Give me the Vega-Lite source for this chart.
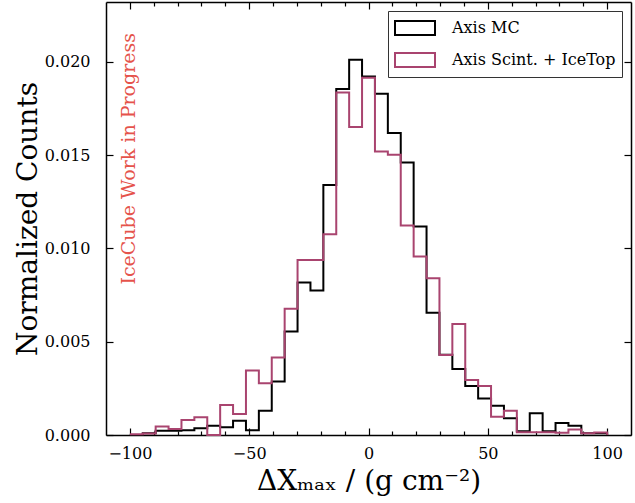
{
  "$schema": "https://vega.github.io/schema/vega-lite/v6.json",
  "width": 525,
  "height": 433,
  "autosize": {"type": "none"},
  "padding": {"left": 106, "top": 2, "right": 4, "bottom": 68},
  "background": "white",
  "config": {
    "font": "DejaVu Serif",
    "view": {"stroke": null},
    "axis": {
      "grid": false,
      "domainColor": "black",
      "domainWidth": 1.5,
      "tickColor": "black",
      "tickWidth": 1.2,
      "labelColor": "black",
      "labelFont": "DejaVu Serif",
      "labelFontSize": 16,
      "titleFont": "DejaVu Serif",
      "titleFontSize": 28,
      "titleFontWeight": "normal",
      "titleColor": "black",
      "labelOverlap": false,
      "labelFlush": false
    }
  },
  "resolve": {"axis": {"x": "independent", "y": "independent"}},
  "layer": [
    {
      "data": {
        "values": [
          {"s": "Axis MC", "x": -100, "y": 0},
          {"s": "Axis MC", "x": -94.595, "y": 0.0001},
          {"s": "Axis MC", "x": -89.189, "y": 0.00023},
          {"s": "Axis MC", "x": -83.784, "y": 0.00023},
          {"s": "Axis MC", "x": -78.378, "y": 0.00026},
          {"s": "Axis MC", "x": -72.973, "y": 0.00036},
          {"s": "Axis MC", "x": -67.568, "y": 0.0005},
          {"s": "Axis MC", "x": -62.162, "y": 0.00042},
          {"s": "Axis MC", "x": -56.757, "y": 0.00077},
          {"s": "Axis MC", "x": -51.351, "y": 0.00025},
          {"s": "Axis MC", "x": -45.946, "y": 0.0013},
          {"s": "Axis MC", "x": -40.541, "y": 0.00286},
          {"s": "Axis MC", "x": -35.135, "y": 0.00554},
          {"s": "Axis MC", "x": -29.73, "y": 0.00817},
          {"s": "Axis MC", "x": -24.324, "y": 0.00774},
          {"s": "Axis MC", "x": -18.919, "y": 0.0134},
          {"s": "Axis MC", "x": -13.514, "y": 0.01854},
          {"s": "Axis MC", "x": -8.108, "y": 0.0201},
          {"s": "Axis MC", "x": -2.703, "y": 0.01921},
          {"s": "Axis MC", "x": 2.703, "y": 0.01828},
          {"s": "Axis MC", "x": 8.108, "y": 0.01618},
          {"s": "Axis MC", "x": 13.514, "y": 0.0146},
          {"s": "Axis MC", "x": 18.919, "y": 0.01117},
          {"s": "Axis MC", "x": 24.324, "y": 0.00655},
          {"s": "Axis MC", "x": 29.73, "y": 0.0043},
          {"s": "Axis MC", "x": 35.135, "y": 0.00353},
          {"s": "Axis MC", "x": 40.541, "y": 0.00262},
          {"s": "Axis MC", "x": 45.946, "y": 0.00195},
          {"s": "Axis MC", "x": 51.351, "y": 0.00157},
          {"s": "Axis MC", "x": 56.757, "y": 0.0009},
          {"s": "Axis MC", "x": 62.162, "y": 0.0002},
          {"s": "Axis MC", "x": 67.568, "y": 0.00116},
          {"s": "Axis MC", "x": 72.973, "y": 0.0002},
          {"s": "Axis MC", "x": 78.378, "y": 0.00064},
          {"s": "Axis MC", "x": 83.784, "y": 0.0005},
          {"s": "Axis MC", "x": 89.189, "y": 0.0001},
          {"s": "Axis MC", "x": 94.595, "y": 0.0001},
          {"s": "Axis MC", "x": 100, "y": 0},
          {"s": "Axis Scint. + IceTop", "x": -100, "y": 0.00004},
          {"s": "Axis Scint. + IceTop", "x": -94.595, "y": 0.00008},
          {"s": "Axis Scint. + IceTop", "x": -89.189, "y": 0.00045},
          {"s": "Axis Scint. + IceTop", "x": -83.784, "y": 0.00032},
          {"s": "Axis Scint. + IceTop", "x": -78.378, "y": 0.0008},
          {"s": "Axis Scint. + IceTop", "x": -72.973, "y": 0.00095},
          {"s": "Axis Scint. + IceTop", "x": -67.568, "y": 0},
          {"s": "Axis Scint. + IceTop", "x": -62.162, "y": 0.00161},
          {"s": "Axis Scint. + IceTop", "x": -56.757, "y": 0.00113},
          {"s": "Axis Scint. + IceTop", "x": -51.351, "y": 0.00345},
          {"s": "Axis Scint. + IceTop", "x": -45.946, "y": 0.00277},
          {"s": "Axis Scint. + IceTop", "x": -40.541, "y": 0.00415},
          {"s": "Axis Scint. + IceTop", "x": -35.135, "y": 0.00676},
          {"s": "Axis Scint. + IceTop", "x": -29.73, "y": 0.00938},
          {"s": "Axis Scint. + IceTop", "x": -24.324, "y": 0.00938},
          {"s": "Axis Scint. + IceTop", "x": -18.919, "y": 0.01076},
          {"s": "Axis Scint. + IceTop", "x": -13.514, "y": 0.01835},
          {"s": "Axis Scint. + IceTop", "x": -8.108, "y": 0.0165},
          {"s": "Axis Scint. + IceTop", "x": -2.703, "y": 0.01914},
          {"s": "Axis Scint. + IceTop", "x": 2.703, "y": 0.01519},
          {"s": "Axis Scint. + IceTop", "x": 8.108, "y": 0.01501},
          {"s": "Axis Scint. + IceTop", "x": 13.514, "y": 0.01122},
          {"s": "Axis Scint. + IceTop", "x": 18.919, "y": 0.00956},
          {"s": "Axis Scint. + IceTop", "x": 24.324, "y": 0.0084},
          {"s": "Axis Scint. + IceTop", "x": 29.73, "y": 0.00429},
          {"s": "Axis Scint. + IceTop", "x": 35.135, "y": 0.00595},
          {"s": "Axis Scint. + IceTop", "x": 40.541, "y": 0.00295},
          {"s": "Axis Scint. + IceTop", "x": 45.946, "y": 0.00262},
          {"s": "Axis Scint. + IceTop", "x": 51.351, "y": 0.00098},
          {"s": "Axis Scint. + IceTop", "x": 56.757, "y": 0.0013},
          {"s": "Axis Scint. + IceTop", "x": 62.162, "y": 0.00015},
          {"s": "Axis Scint. + IceTop", "x": 67.568, "y": 0.00015},
          {"s": "Axis Scint. + IceTop", "x": 72.973, "y": 0.00015},
          {"s": "Axis Scint. + IceTop", "x": 78.378, "y": 0.00012},
          {"s": "Axis Scint. + IceTop", "x": 83.784, "y": 0.0003},
          {"s": "Axis Scint. + IceTop", "x": 89.189, "y": 0.0001},
          {"s": "Axis Scint. + IceTop", "x": 94.595, "y": 0.00014},
          {"s": "Axis Scint. + IceTop", "x": 100, "y": 0}
        ]
      },
      "mark": {"type": "line", "interpolate": "step-after", "strokeWidth": 2},
      "encoding": {
        "x": {
          "field": "x",
          "type": "quantitative",
          "scale": {"domain": [-110, 110], "nice": false, "zero": false},
          "axis": {
            "orient": "bottom",
            "values": [-100, -90, -80, -70, -60, -50, -40, -30, -20, -10, 0, 10, 20, 30, 40, 50, 60, 70, 80, 90, 100],
            "tickSize": {"condition": {"test": "datum.value % 50 === 0", "value": -7}, "value": -4},
            "labelExpr": "datum.value % 50 === 0 ? datum.label : ''",
            "format": "d",
            "labelPadding": 17,
            "title": "ΔXₘₐₓ / (g cm⁻²)",
            "titlePadding": 3
          }
        },
        "y": {
          "field": "y",
          "type": "quantitative",
          "scale": {"domain": [0, 0.0232], "nice": false, "zero": true},
          "axis": {
            "orient": "left",
            "values": [0, 0.005, 0.01, 0.015, 0.02],
            "format": ".3f",
            "tickSize": -7,
            "labelPadding": 23,
            "title": "Normalized Counts",
            "titlePadding": 2
          }
        },
        "color": {
          "field": "s",
          "type": "nominal",
          "scale": {"domain": ["Axis MC", "Axis Scint. + IceTop"], "range": ["#000000", "#a9446f"]},
          "legend": {
            "title": null,
            "orient": "top-right",
            "offset": 9,
            "symbolType": "M-1,-0.7L3,-0.7L3,0.7L-1,0.7Z",
            "symbolSize": 400,
            "symbolStrokeWidth": 2,
            "symbolFillColor": "transparent",
            "labelFont": "DejaVu Serif",
            "labelFontSize": 16,
            "labelColor": "black",
            "labelLimit": 300,
            "labelOffset": 36,
            "rowPadding": 10,
            "padding": 6,
            "strokeColor": "#333333",
            "fillColor": "white",
            "cornerRadius": 0
          }
        }
      }
    },
    {
      "data": {"values": [{"note": "IceCube Work in Progress"}]},
      "mark": {"type": "text", "angle": 270, "align": "center", "baseline": "middle", "fontSize": 19, "fill": "#e5534b", "font": "DejaVu Serif", "fontWeight": "normal"},
      "encoding": {
        "text": {"field": "note", "type": "nominal"},
        "x": {
          "datum": -100.4,
          "type": "quantitative",
          "axis": {
            "orient": "top",
            "values": [-100, -90, -80, -70, -60, -50, -40, -30, -20, -10, 0, 10, 20, 30, 40, 50, 60, 70, 80, 90, 100],
            "tickSize": {"condition": {"test": "datum.value % 50 === 0", "value": -7}, "value": -4},
            "labels": false,
            "title": null
          }
        },
        "y": {
          "datum": 0.0148,
          "type": "quantitative",
          "axis": {
            "orient": "right",
            "values": [0, 0.005, 0.01, 0.015, 0.02],
            "tickSize": -7,
            "labels": false,
            "title": null
          }
        }
      }
    }
  ]
}
